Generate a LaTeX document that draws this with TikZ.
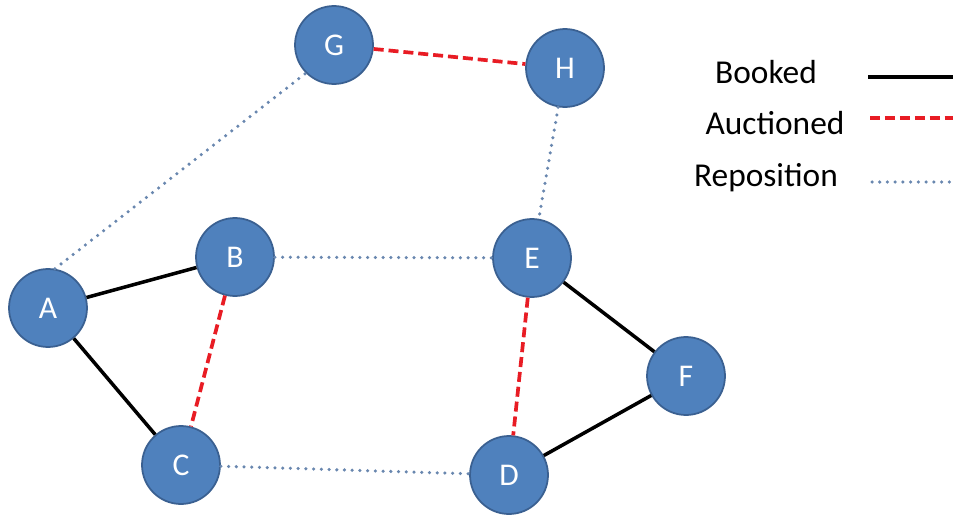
\documentclass[tikz,border=0pt]{standalone}
\usepackage{fontspec}
\setmainfont{Carlito}
\definecolor{nodeblue}{RGB}{79,129,189}
\definecolor{nodeedge}{RGB}{58,96,145}
\definecolor{repoblue}{RGB}{105,135,175}
\definecolor{auctred}{RGB}{232,28,36}
\tikzset{
  station/.style={circle, fill=nodeblue, draw=nodeedge, line width=1pt,
    minimum size=1.56cm, inner sep=0pt, text=white, font=\fontsize{18}{18}\selectfont},
  booked/.style={black, line width=2pt},
  auctioned/.style={auctred, line width=2.1pt, dash pattern=on 5.7pt off 2.8pt},
  reposition/.style={repoblue, line width=2pt, line cap=round, dash pattern=on 0pt off 4.4pt},
  legendtext/.style={font=\fontsize{19}{19}\selectfont, text=black}
}
\begin{document}
\begin{tikzpicture}[x=0.02cm, y=-0.02cm]
      \useasboundingbox (0,0) rectangle (953,517);
      \draw
        (48,308) node[station] (A){A}
        (235,257) node[station] (B){B}
        (181,465) node[station] (C){C}
        (509,475) node[station] (D){D}
        (532,258) node[station] (E){E}
        (686,376) node[station] (F){F}
        (334,45) node[station] (G){G}
        (565,68) node[station] (H){H};
      \begin{scope}[-]
        \draw[booked] (A) to (B);
        \draw[booked] (A) to (C);
        \draw[booked] (E) to (F);
        \draw[booked] (F) to (D);
        \draw[auctioned] (G) to (H);
        \draw[auctioned] (B) to (C);
        \draw[auctioned] (E) to (D);
        \draw[reposition] (A.80) to (G.225);
        \draw[reposition] (H) to (E);
        \draw[reposition] (B) to (E);
        \draw[reposition] (C) to (D);
      \end{scope}
      % legend
      \draw
        (766,72) node[legendtext] (lbooked){Booked}
        (775,123) node[legendtext] (lauct){Auctioned}
        (766,178) node[legendtext] (lrepo){Reposition};
      \coordinate (b1) at (868,77);
      \coordinate (b2) at (953,77);
      \coordinate (a1) at (870,118);
      \coordinate (a2) at (953,118);
      \coordinate (r1) at (872,182);
      \coordinate (r2) at (953,182);
      \draw[booked] (b1) to (b2);
      \draw[auctioned] (a1) to (a2);
      \draw[reposition] (r1) to (r2);
    \end{tikzpicture}
\end{document}
